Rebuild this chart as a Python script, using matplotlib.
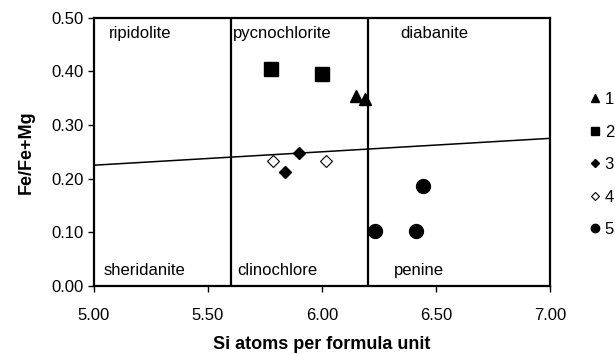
import matplotlib.pyplot as plt

plt.rcParams['font.family'] = ['Liberation Sans', 'DejaVu Sans']

# series data (Si atoms p.f.u., Fe/Fe+Mg)
s1_x = [6.15, 6.19]
s1_y = [0.354, 0.349]
s2_x = [5.775, 6.00]
s2_y = [0.405, 0.395]
s3_x = [5.898, 5.836]
s3_y = [0.248, 0.212]
s4_x = [5.787, 6.016]
s4_y = [0.233, 0.233]
s5_x = [6.232, 6.412, 6.444]
s5_y = [0.102, 0.102, 0.186]

# boundaries
vlines = [5.6, 6.2]
div_x = [5.0, 7.0]
div_y = [0.225, 0.275]

fields = [("ripidolite", 5.066, 0.471), ("pycnochlorite", 5.608, 0.471), ("diabanite", 6.342, 0.471),
          ("sheridanite", 5.044, 0.028), ("clinochlore", 5.627, 0.028), ("penine", 6.316, 0.028)]

fig = plt.figure(figsize=(6.15, 3.54), dpi=100)
ax = fig.add_axes([0.1528, 0.192, 0.7415, 0.7585])

ax.plot(s1_x, s1_y, '^', color='black', ms=9, label='1', zorder=3)
ax.plot(s2_x, s2_y, 's', color='black', ms=9.5, label='2', zorder=3)
ax.plot(s3_x, s3_y, 'D', color='black', ms=6.5, label='3', zorder=3)
ax.plot(s4_x, s4_y, 'D', mfc='white', mec='black', mew=0.8, ms=6.5, label='4', zorder=3)
ax.plot(s5_x, s5_y, 'o', color='black', ms=10, label='5', zorder=3)

for v in vlines:
    ax.axvline(v, color='black', lw=1.6)
ax.plot(div_x, div_y, color='black', lw=1.1)

for name, x, y in fields:
    ax.text(x, y, name, fontsize=12, va='center', ha='left')

ax.set_xlim(5.0, 7.0)
ax.set_ylim(0.0, 0.5)
ax.set_xticks([5.0, 5.5, 6.0, 6.5, 7.0])
ax.set_xticklabels(['5.00', '5.50', '6.00', '6.50', '7.00'])
ax.set_yticks([0, 0.1, 0.2, 0.3, 0.4, 0.5])
ax.set_yticklabels(['0.00', '0.10', '0.20', '0.30', '0.40', '0.50'])
ax.tick_params(direction='out', length=4.5, width=1, labelsize=12, pad=3)
ax.tick_params(axis='x', pad=11)
for sp in ax.spines.values():
    sp.set_linewidth(1.6)

ax.set_xlabel('Si atoms per formula unit', fontsize=13, fontweight='bold', labelpad=10)
ax.set_ylabel('Fe/Fe+Mg', fontsize=13, fontweight='bold', labelpad=12)

leg = ax.legend(loc='upper left', bbox_to_anchor=(0.959, 0.74), bbox_transform=fig.transFigure,
                frameon=False, borderpad=0, borderaxespad=0,
                handlelength=0.6, handletextpad=0.3, labelspacing=1.05, fontsize=12,
                markerscale=0.6)

fig.savefig('out.png', dpi=100)
